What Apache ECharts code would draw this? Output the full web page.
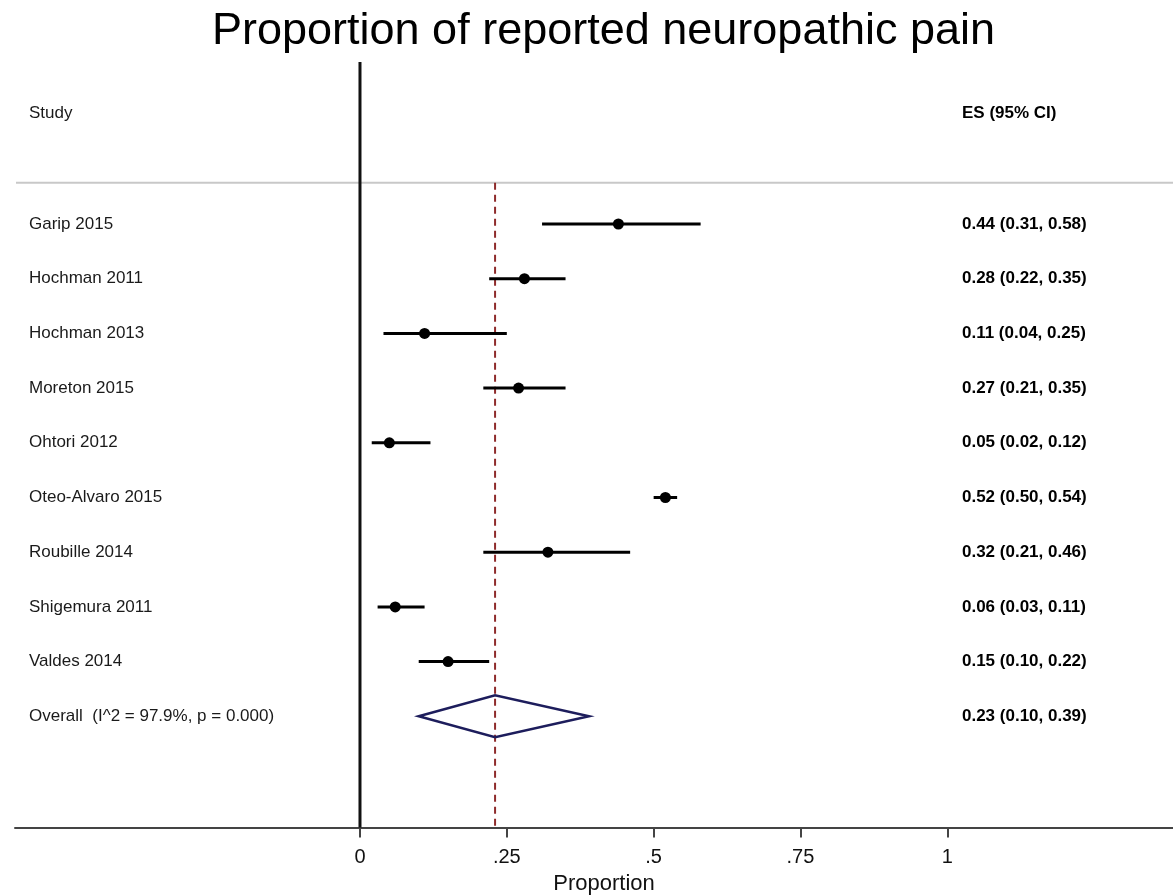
<!DOCTYPE html>
<html><head><meta charset="utf-8">
<script src="https://cdn.jsdelivr.net/npm/echarts@6/dist/echarts.min.js"></script>
<style>html,body{margin:0;padding:0;background:#fff}#c{width:1173px;height:895px}</style>
</head><body><div id="c"></div>
<script>
// ---- data ----
const titleText = 'Proportion of reported neuropathic pain';
const studies = ['Garip 2015','Hochman 2011','Hochman 2013','Moreton 2015','Ohtori 2012','Oteo-Alvaro 2015','Roubille 2014','Shigemura 2011','Valdes 2014'];
const es = [0.44, 0.28, 0.11, 0.27, 0.05, 0.52, 0.32, 0.06, 0.15];
const lo = [0.31, 0.22, 0.04, 0.21, 0.02, 0.50, 0.21, 0.03, 0.10];
const hi = [0.58, 0.35, 0.25, 0.35, 0.12, 0.54, 0.46, 0.11, 0.22];
const overallLabel = 'Overall  (I^2 = 97.9%, p = 0.000)';
const overallES = 0.23, overallLo = 0.10, overallHi = 0.39;
const xTicks = [0, 0.25, 0.5, 0.75, 1];
const xTickLabels = ['0', '.25', '.5', '.75', '1'];
const headerStudy = 'Study';
const headerES = 'ES (95% CI)';
const xAxisName = 'Proportion';

// ---- layout (not data) ----
const X_MIN = -0.5874, X_MAX = 1.3843;
const Y_MIN = -2.9616, Y_MAX = 11.033;
const HEADER_ROW = -2.03, RULE_ROW = -0.755;
const LABEL_X = -0.5636, ES_X = 1.025;
const FONT = '"Liberation Sans", Arial, sans-serif';

const fmt = v => v.toFixed(2);
const rows = studies.map((s, i) => i);
const overallRow = studies.length;

const chart = echarts.init(document.getElementById('c'), null, {renderer: 'canvas'});

const leftLabels = [[LABEL_X, HEADER_ROW, headerStudy]]
  .concat(studies.map((s, i) => [LABEL_X, i, s]))
  .concat([[LABEL_X, overallRow, overallLabel]]);
const rightLabels = [[ES_X, HEADER_ROW, headerES]]
  .concat(studies.map((s, i) => [ES_X, i, fmt(es[i]) + ' (' + fmt(lo[i]) + ', ' + fmt(hi[i]) + ')']))
  .concat([[ES_X, overallRow, fmt(overallES) + ' (' + fmt(overallLo) + ', ' + fmt(overallHi) + ')']]);

function textSeries(list, weight, color) {
  return {
    type: 'custom', clip: false, silent: true,
    dimensions: ['x', 'y', {name: 't', type: 'ordinal'}],
    data: list,
    encode: {x: 0, y: 1},
    renderItem: (p, api) => {
      const d = list[p.dataIndex];
      const c = api.coord([d[0], d[1]]);
      return {type: 'text', x: c[0], y: c[1],
        style: {text: d[2], fill: color, font: weight + ' 17px ' + FONT, textAlign: 'left', textVerticalAlign: 'middle'}};
    }
  };
}

chart.setOption({
  animation: false,
  backgroundColor: '#fff',
  title: {
    text: titleText,
    left: 212,
    top: 9,
    padding: 0,
    textStyle: {fontFamily: FONT, fontSize: 45, fontWeight: 'normal', color: '#000'}
  },
  grid: {left: 15, right: 0, top: 62, bottom: 67.5, outerBoundsMode: 'none', containLabel: false},
  xAxis: {
    type: 'value', min: X_MIN, max: X_MAX,
    axisLine: {show: true, onZero: false, lineStyle: {color: '#444', width: 2}},
    axisTick: {show: true, customValues: xTicks, length: 10, lineStyle: {color: '#444', width: 2}},
    axisLabel: {show: true, customValues: xTicks, margin: 20, fontFamily: FONT, fontSize: 20, color: '#111',
      formatter: v => { const k = xTicks.findIndex(t => Math.abs(t - v) < 1e-9); return k >= 0 ? xTickLabels[k] : ''; }},
    splitLine: {show: false},
    name: xAxisName, nameLocation: 'middle', nameGap: 45,
    nameTextStyle: {fontFamily: FONT, fontSize: 22, color: '#111', padding: [0, 0, 0, 20]}
  },
  yAxis: {
    type: 'value', min: Y_MIN, max: Y_MAX, inverse: true,
    axisLine: {show: false}, axisTick: {show: false}, axisLabel: {show: false}, splitLine: {show: false}
  },
  series: [
    { // header rule
      type: 'custom', clip: false, silent: true,
      data: [[X_MIN, X_MAX, RULE_ROW]],
      encode: {x: [0, 1], y: 2},
      renderItem: (p, api) => {
        const a = api.coord([api.value(0), api.value(2)]), b = api.coord([api.value(1), api.value(2)]);
        return {type: 'line', shape: {x1: a[0] + 1, y1: a[1], x2: b[0], y2: b[1]}, style: {stroke: '#c8c8c8', lineWidth: 2}};
      }
    },
    { // zero line
      type: 'custom', clip: false, silent: true,
      data: [[0, Y_MIN, Y_MAX]],
      encode: {x: 0, y: [1, 2]},
      renderItem: (p, api) => {
        const a = api.coord([api.value(0), api.value(1)]), b = api.coord([api.value(0), api.value(2)]);
        return {type: 'line', shape: {x1: a[0], y1: a[1], x2: b[0], y2: b[1]}, style: {stroke: '#111', lineWidth: 3}};
      }
    },
    { // overall dashed line
      type: 'custom', clip: false, silent: true,
      data: [[overallES, RULE_ROW, Y_MAX]],
      encode: {x: 0, y: [1, 2]},
      renderItem: (p, api) => {
        const a = api.coord([api.value(0), api.value(1)]), b = api.coord([api.value(0), api.value(2)]);
        return {type: 'line', shape: {x1: a[0], y1: a[1], x2: b[0], y2: b[1]}, style: {stroke: '#8e2b2b', lineWidth: 2, lineDash: [7, 5]}};
      }
    },
    { // study CIs and point estimates
      type: 'custom', clip: false,
      data: rows.map(i => [i, lo[i], hi[i], es[i]]),
      encode: {x: [1, 2, 3], y: 0},
      renderItem: (p, api) => {
        const y = api.value(0);
        const a = api.coord([api.value(1), y]), b = api.coord([api.value(2), y]), c = api.coord([api.value(3), y]);
        return {type: 'group', children: [
          {type: 'line', shape: {x1: a[0], y1: a[1], x2: b[0], y2: b[1]}, style: {stroke: '#000', lineWidth: 3}},
          {type: 'circle', shape: {cx: c[0], cy: c[1], r: 5.5}, style: {fill: '#000'}}
        ]};
      }
    },
    { // overall diamond
      type: 'custom', clip: false,
      data: [[overallRow, overallLo, overallHi, overallES]],
      encode: {x: [1, 2, 3], y: 0},
      renderItem: (p, api) => {
        const y = api.value(0);
        const a = api.coord([api.value(1), y]), b = api.coord([api.value(2), y]), c = api.coord([api.value(3), y]);
        const h = 21;
        return {type: 'polygon', shape: {points: [[a[0], a[1]], [c[0], c[1] - h], [b[0], b[1]], [c[0], c[1] + h]]},
          style: {fill: 'rgba(255,255,255,0)', stroke: '#1d1d5c', lineWidth: 2.5}};
      }
    },
    textSeries(leftLabels, 'normal', '#1a1a1a'),
    textSeries(rightLabels, 'bold', '#000')
  ]
});
</script></body></html>
